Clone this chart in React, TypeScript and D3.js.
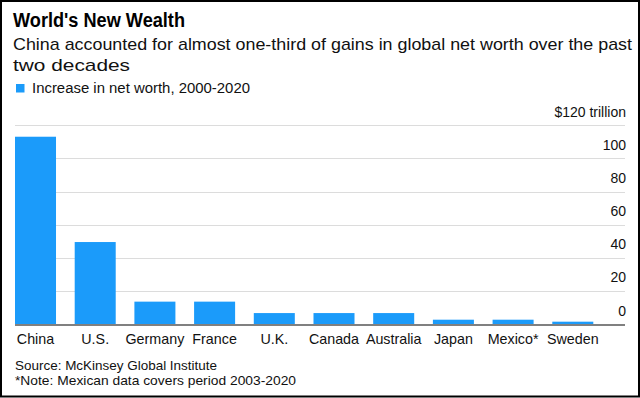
import * as d3 from 'd3';

// data
const countries = ['China', 'U.S.', 'Germany', 'France', 'U.K.', 'Canada', 'Australia', 'Japan', 'Mexico*', 'Sweden'];
const increase = [113.1, 49.5, 13.5, 13.5, 6.6, 6.6, 6.6, 2.6, 2.6, 1.4];
const yTicks = [0, 20, 40, 60, 80, 100, 120];

const W = 640;
const H = 398;
const BLUE = '#1b9bfa';
const FONT = '"Liberation Sans", Arial, Helvetica, sans-serif';

export default function App() {
  // scales
  const x = d3
    .scaleBand<string>()
    .domain(countries)
    .range([15, 593.3])
    .paddingInner(0.313)
    .paddingOuter(0);

  const y = d3.scaleLinear().domain([0, 120]).range([324, 125.3]);

  const gridLeft = 15;
  const gridRight = 625;

  return (
    <svg
      width={W}
      height={H}
      style={{ position: 'absolute', left: 0, top: 0, fontFamily: FONT, background: '#fff' }}
    >
      <rect x={0} y={0} width={W} height={H} fill="#fff" />

      {/* titles */}
      <text x={13} y={26.5} fontSize={19.5} fontWeight="bold" fill="#000" textLength={172} lengthAdjust="spacingAndGlyphs">
        World's New Wealth
      </text>
      <text x={13} y={50} fontSize={17} fill="#111" textLength={619} lengthAdjust="spacingAndGlyphs">
        China accounted for almost one-third of gains in global net worth over the past
      </text>
      <text x={13} y={70.5} fontSize={17} fill="#111" textLength={117} lengthAdjust="spacingAndGlyphs">
        two decades
      </text>

      {/* legend */}
      <rect x={16} y={84} width={8.5} height={8.5} fill={BLUE} />
      <text x={32} y={93} fontSize={14} fill="#111" textLength={218} lengthAdjust="spacingAndGlyphs">
        Increase in net worth, 2000-2020
      </text>

      {/* grid */}
      {yTicks.filter((t) => t > 0).map((t) => (
        <line
          key={t}
          x1={gridLeft}
          x2={gridRight}
          y1={Math.round(y(t)) + 0.5}
          y2={Math.round(y(t)) + 0.5}
          stroke="#dcdcdc"
          strokeWidth={1}
        />
      ))}

      {/* y labels */}
      {yTicks.map((t) => (
        <text key={t} x={626} y={y(t) - 8.5} fontSize={14} textAnchor="end" fill="#111">
          {t === 120 ? '$120 trillion' : t}
        </text>
      ))}

      {/* bars */}
      {countries.map((c, i) => (
        <rect
          key={c}
          x={x(c)}
          y={y(increase[i])}
          width={x.bandwidth()}
          height={y(0) - y(increase[i])}
          fill={BLUE}
        />
      ))}

      {/* baseline */}
      <line x1={gridLeft} x2={gridRight} y1={y(0) + 1} y2={y(0) + 1} stroke="#808080" strokeWidth={2} />

      {/* x labels */}
      {countries.map((c) => (
        <text key={c} x={(x(c) || 0) + x.bandwidth() / 2} y={344} fontSize={14.3} textAnchor="middle" fill="#111">
          {c}
        </text>
      ))}

      {/* footer */}
      <text x={15} y={370} fontSize={13.6} fill="#111" textLength={202} lengthAdjust="spacingAndGlyphs">
        Source: McKinsey Global Institute
      </text>
      <text x={15} y={385} fontSize={13.6} fill="#111" textLength={281} lengthAdjust="spacingAndGlyphs">
        *Note: Mexican data covers period 2003-2020
      </text>

      {/* frame */}
      <rect x={1} y={1} width={W - 2} height={H - 2.5} fill="none" stroke="#000" strokeWidth={2} />
    </svg>
  );
}
